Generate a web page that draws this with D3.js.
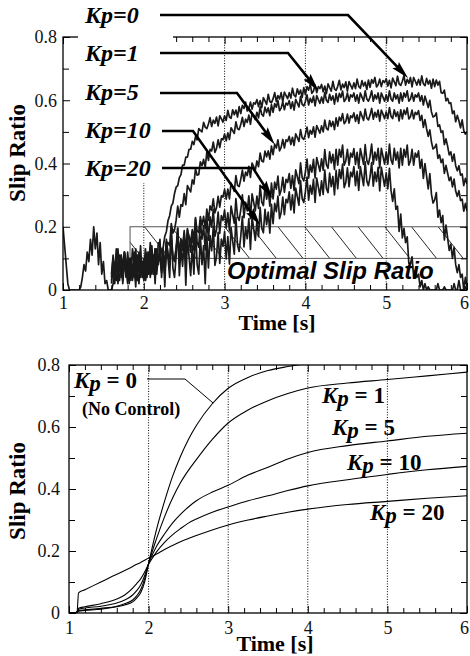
<!DOCTYPE html>
<html>
<head>
<meta charset="utf-8">
<script src="https://cdn.jsdelivr.net/npm/d3@7/dist/d3.min.js"></script>
<style>
  body { margin: 0; background: #fff; }
  svg { display: block; }
  .serif { font-family: "Liberation Serif", "Times New Roman", Times, serif; }
  .sans { font-family: "Liberation Sans", Arial, Helvetica, sans-serif; }
</style>
</head>
<body>
<svg id="fig" width="470" height="656"></svg>
<script>
// ---------------------------------------------------------------
// Measured slip ratio (experiment), one sample every 0.02 s
// (each row below covers 0.2 s)
// ---------------------------------------------------------------
const measuredStep = 0.02;
const measuredLabels = ["Kp=0", "Kp=1", "Kp=5", "Kp=10", "Kp=20"];
const measuredStarts = [1.0, 1.6, 1.6, 1.6, 1.6];

const measuredKp0 = [
  0.20, 0.14, 0.08, 0.02, 0, 0, 0, 0, 0, 0,
  0, 0.01, 0.04, 0.08, 0.06, 0.12, 0.09, 0.16, 0.11, 0.20,
  0.13, 0.18, 0.08, 0.15, 0.05, 0.09, 0.02, 0.03, 0, 0,
  0, 0.02, 0.05, 0.03, 0.08, 0.06, 0.11, 0.07, 0.12, 0.09,
  0.05, 0.10, 0.03, 0.08, 0.04, 0.11, 0.06, 0.02, 0.09, 0.05,
  0.08, 0.03, 0.07, 0.05, 0.10, 0.06, 0.09, 0.07, 0.11, 0.09,
  0.10, 0.125, 0.135, 0.17, 0.185, 0.22, 0.235, 0.265, 0.275, 0.305,
  0.325, 0.33, 0.355, 0.365, 0.395, 0.395, 0.42, 0.42, 0.445, 0.445,
  0.47, 0.46, 0.485, 0.475, 0.51, 0.505, 0.50, 0.53, 0.515, 0.51,
  0.525, 0.545, 0.517, 0.537, 0.527, 0.547, 0.519, 0.551, 0.541, 0.531,
  0.551, 0.536, 0.568, 0.547, 0.543, 0.570, 0.554, 0.569, 0.547, 0.580,
  0.558, 0.584, 0.574, 0.594, 0.566, 0.574, 0.594, 0.572, 0.592, 0.588,
  0.602, 0.580, 0.599, 0.577, 0.608, 0.598, 0.587, 0.619, 0.596, 0.592,
  0.605, 0.624, 0.596, 0.615, 0.604, 0.624, 0.595, 0.626, 0.615, 0.605,
  0.624, 0.607, 0.638, 0.616, 0.611, 0.636, 0.619, 0.632, 0.609, 0.640,
  0.618, 0.643, 0.632, 0.651, 0.622, 0.629, 0.648, 0.624, 0.643, 0.637,
  0.650, 0.627, 0.645, 0.621, 0.652, 0.640, 0.629, 0.660, 0.636, 0.631,
  0.644, 0.663, 0.633, 0.651, 0.640, 0.658, 0.629, 0.659, 0.647, 0.636,
  0.655, 0.637, 0.667, 0.644, 0.638, 0.662, 0.645, 0.657, 0.634, 0.664,
  0.641, 0.665, 0.654, 0.672, 0.642, 0.649, 0.667, 0.643, 0.662, 0.656,
  0.668, 0.645, 0.663, 0.639, 0.670, 0.658, 0.646, 0.676, 0.652, 0.647,
  0.660, 0.678, 0.648, 0.666, 0.654, 0.672, 0.642, 0.672, 0.660, 0.648,
  0.666, 0.648, 0.677, 0.652, 0.646, 0.669, 0.651, 0.663, 0.638, 0.667,
  0.643, 0.664, 0.648, 0.660, 0.624, 0.622, 0.632, 0.598, 0.606, 0.590,
  0.592, 0.558, 0.566, 0.532, 0.552, 0.535, 0.513, 0.538, 0.504, 0.493,
  0.500
];
const measuredKp1 = [
  0.03, 0.07, 0.02, 0.09, 0.05, 0.11, 0.04, 0.08, 0.12, 0.06,
  0.10, 0.03, 0.08, 0.05, 0.12, 0.07, 0.03, 0.10, 0.06, 0.09,
  0.04, 0.11, 0.07, 0.10, 0.05, 0.12, 0.08, 0.13, 0.07, 0.11,
  0.10, 0.07, 0.11, 0.09, 0.15, 0.15, 0.14, 0.21, 0.18, 0.19,
  0.22, 0.265, 0.23, 0.27, 0.265, 0.305, 0.27, 0.33, 0.32, 0.31,
  0.348, 0.335, 0.383, 0.363, 0.365, 0.405, 0.393, 0.413, 0.388, 0.435,
  0.410, 0.445, 0.440, 0.468, 0.435, 0.448, 0.475, 0.450, 0.478, 0.475,
  0.493, 0.472, 0.497, 0.476, 0.513, 0.504, 0.495, 0.532, 0.510, 0.507,
  0.523, 0.546, 0.517, 0.540, 0.530, 0.553, 0.524, 0.559, 0.549, 0.539,
  0.562, 0.544, 0.579, 0.555, 0.550, 0.578, 0.561, 0.576, 0.551, 0.586,
  0.562, 0.589, 0.578, 0.599, 0.567, 0.575, 0.595, 0.570, 0.591, 0.585,
  0.599, 0.574, 0.595, 0.569, 0.603, 0.591, 0.579, 0.612, 0.587, 0.582,
  0.596, 0.617, 0.585, 0.606, 0.593, 0.613, 0.582, 0.615, 0.602, 0.590,
  0.610, 0.591, 0.625, 0.600, 0.593, 0.619, 0.600, 0.614, 0.588, 0.621,
  0.596, 0.622, 0.609, 0.629, 0.596, 0.603, 0.623, 0.597, 0.617, 0.610,
  0.623, 0.597, 0.617, 0.591, 0.623, 0.610, 0.597, 0.630, 0.604, 0.597,
  0.610, 0.630, 0.597, 0.617, 0.604, 0.623, 0.591, 0.623, 0.610, 0.597,
  0.617, 0.597, 0.630, 0.604, 0.597, 0.623, 0.604, 0.617, 0.591, 0.623,
  0.597, 0.623, 0.610, 0.630, 0.597, 0.604, 0.623, 0.597, 0.617, 0.610,
  0.623, 0.597, 0.615, 0.585, 0.613, 0.595, 0.577, 0.600, 0.563, 0.547,
  0.550, 0.560, 0.517, 0.522, 0.498, 0.503, 0.460, 0.478, 0.455, 0.427,
  0.437, 0.407, 0.430, 0.393, 0.377, 0.393, 0.363, 0.367, 0.330, 0.353,
  0.335
];
const measuredKp5 = [
  0.02, 0.08, 0.04, 0.10, 0.06, 0.03, 0.09, 0.05, 0.11, 0.04,
  0.08, 0.02, 0.10, 0.06, 0.09, 0.03, 0.07, 0.12, 0.05, 0.08,
  0.03, 0.09, 0.06, 0.12, 0.04, 0.10, 0.07, 0.13, 0.05, 0.11,
  0.110, 0.055, 0.105, 0.050, 0.130, 0.105, 0.080, 0.160, 0.105, 0.095,
  0.130, 0.173, 0.115, 0.158, 0.138, 0.180, 0.123, 0.190, 0.170, 0.150,
  0.191, 0.164, 0.225, 0.187, 0.182, 0.232, 0.205, 0.233, 0.195, 0.256,
  0.220, 0.266, 0.252, 0.288, 0.244, 0.260, 0.296, 0.262, 0.298, 0.294,
  0.318, 0.287, 0.319, 0.288, 0.338, 0.325, 0.312, 0.362, 0.331, 0.327,
  0.350, 0.379, 0.344, 0.373, 0.362, 0.391, 0.356, 0.401, 0.390, 0.379,
  0.408, 0.390, 0.433, 0.408, 0.405, 0.439, 0.421, 0.440, 0.414, 0.455,
  0.428, 0.461, 0.449, 0.475, 0.440, 0.451, 0.476, 0.449, 0.475, 0.470,
  0.486, 0.460, 0.483, 0.457, 0.494, 0.482, 0.470, 0.507, 0.481, 0.476,
  0.492, 0.515, 0.482, 0.505, 0.493, 0.516, 0.483, 0.520, 0.508, 0.496,
  0.519, 0.500, 0.537, 0.511, 0.506, 0.536, 0.517, 0.533, 0.507, 0.544,
  0.518, 0.547, 0.535, 0.558, 0.526, 0.533, 0.556, 0.528, 0.551, 0.545,
  0.560, 0.533, 0.554, 0.527, 0.564, 0.550, 0.536, 0.572, 0.544, 0.538,
  0.553, 0.574, 0.540, 0.562, 0.547, 0.569, 0.534, 0.569, 0.556, 0.542,
  0.563, 0.542, 0.577, 0.549, 0.542, 0.570, 0.549, 0.563, 0.535, 0.570,
  0.541, 0.569, 0.555, 0.576, 0.541, 0.548, 0.569, 0.541, 0.562, 0.555,
  0.567, 0.536, 0.552, 0.514, 0.539, 0.510, 0.486, 0.506, 0.468, 0.446,
  0.450, 0.461, 0.416, 0.427, 0.403, 0.414, 0.369, 0.394, 0.370, 0.346,
  0.357, 0.326, 0.351, 0.313, 0.296, 0.314, 0.283, 0.287, 0.249, 0.274,
  0.250
];
const measuredKp10 = [
  0.05, 0.11, 0.03, 0.08, 0.13, 0.06, 0.10, 0.02, 0.09, 0.05,
  0.12, 0.06, 0.10, 0.03, 0.08, 0.13, 0.05, 0.11, 0.04, 0.09,
  0.06, 0.13, 0.04, 0.10, 0.07, 0.14, 0.05, 0.12, 0.08, 0.15,
  0.140, 0.063, 0.126, 0.050, 0.153, 0.116, 0.080, 0.183, 0.106, 0.090,
  0.133, 0.196, 0.099, 0.162, 0.125, 0.188, 0.091, 0.194, 0.157, 0.120,
  0.183, 0.126, 0.229, 0.152, 0.135, 0.218, 0.161, 0.204, 0.127, 0.230,
  0.158, 0.231, 0.199, 0.255, 0.170, 0.190, 0.246, 0.179, 0.235, 0.220,
  0.253, 0.196, 0.244, 0.187, 0.265, 0.238, 0.211, 0.289, 0.232, 0.220,
  0.253, 0.301, 0.229, 0.277, 0.250, 0.298, 0.226, 0.304, 0.277, 0.250,
  0.297, 0.258, 0.331, 0.278, 0.267, 0.326, 0.287, 0.318, 0.265, 0.338,
  0.288, 0.341, 0.319, 0.360, 0.300, 0.316, 0.356, 0.309, 0.350, 0.340,
  0.368, 0.321, 0.362, 0.315, 0.380, 0.358, 0.336, 0.402, 0.355, 0.345,
  0.373, 0.414, 0.354, 0.395, 0.373, 0.413, 0.354, 0.419, 0.397, 0.375,
  0.415, 0.379, 0.444, 0.396, 0.385, 0.437, 0.402, 0.429, 0.381, 0.445,
  0.395, 0.445, 0.420, 0.458, 0.395, 0.408, 0.445, 0.395, 0.433, 0.420,
  0.447, 0.397, 0.435, 0.385, 0.447, 0.422, 0.397, 0.460, 0.410, 0.397,
  0.423, 0.461, 0.398, 0.436, 0.411, 0.448, 0.386, 0.448, 0.423, 0.398,
  0.436, 0.398, 0.461, 0.411, 0.398, 0.448, 0.411, 0.436, 0.386, 0.448,
  0.395, 0.445, 0.420, 0.458, 0.395, 0.408, 0.445, 0.395, 0.433, 0.420,
  0.440, 0.385, 0.413, 0.353, 0.400, 0.360, 0.320, 0.368, 0.303, 0.275,
  0.285, 0.308, 0.230, 0.253, 0.213, 0.235, 0.158, 0.205, 0.165, 0.125,
  0.145, 0.100, 0.135, 0.080, 0.055, 0.080, 0.040, 0.050, 0, 0.040,
  0.010
];
const measuredKp20 = [
  0.04, 0.10, 0.06, 0.13, 0.02, 0.08, 0.11, 0.03, 0.12, 0.07,
  0.02, 0.09, 0.05, 0.13, 0.08, 0.01, 0.11, 0.06, 0.14, 0.04,
  0.10, 0.03, 0.12, 0.07, 0.15, 0.05, 0.11, 0.02, 0.13, 0.08,
  0.16, 0.04, 0.13, 0.01, 0.16, 0.10, 0.04, 0.19, 0.07, 0.04,
  0.105, 0.195, 0.045, 0.135, 0.075, 0.165, 0.015, 0.165, 0.105, 0.045,
  0.14, 0.05, 0.20, 0.08, 0.05, 0.17, 0.08, 0.14, 0.02, 0.17,
  0.070, 0.172, 0.124, 0.201, 0.078, 0.105, 0.182, 0.084, 0.161, 0.138,
  0.185, 0.098, 0.169, 0.082, 0.197, 0.155, 0.113, 0.229, 0.142, 0.122,
  0.170, 0.233, 0.136, 0.199, 0.162, 0.225, 0.128, 0.231, 0.194, 0.157,
  0.218, 0.169, 0.261, 0.195, 0.181, 0.255, 0.207, 0.246, 0.180, 0.271,
  0.210, 0.274, 0.248, 0.297, 0.226, 0.245, 0.294, 0.238, 0.287, 0.276,
  0.310, 0.253, 0.301, 0.244, 0.322, 0.295, 0.268, 0.346, 0.289, 0.277,
  0.310, 0.357, 0.284, 0.331, 0.303, 0.350, 0.277, 0.354, 0.326, 0.298,
  0.345, 0.302, 0.379, 0.321, 0.308, 0.370, 0.327, 0.359, 0.301, 0.378,
  0.320, 0.381, 0.352, 0.398, 0.324, 0.340, 0.386, 0.327, 0.373, 0.358,
  0.390, 0.330, 0.375, 0.315, 0.390, 0.360, 0.330, 0.405, 0.345, 0.330,
  0.358, 0.403, 0.328, 0.373, 0.343, 0.388, 0.313, 0.388, 0.358, 0.328,
  0.370, 0.320, 0.385, 0.315, 0.280, 0.320, 0.255, 0.265, 0.185, 0.240,
  0.165, 0.195, 0.150, 0.168, 0.085, 0.083, 0.105, 0.040, 0.063, 0.040,
  0.05, 0.01, 0.03, 0, 0.02, 0, 0.01, 0, 0, 0,
  0, 0, 0.02, 0, 0, 0, 0.01, 0, 0, 0,
  0, 0, 0.02, 0, 0, 0.03, 0, 0, 0, 0.01,
  0
];
const measuredSeries = [measuredKp0, measuredKp1, measuredKp5, measuredKp10, measuredKp20];

// Target band for the controller
const optimalSlipLow = 0.1, optimalSlipHigh = 0.2;
const optimalBandStart = 1.83;

// ---------------------------------------------------------------
// Simulated slip ratio
// ---------------------------------------------------------------
const simTime = [1.0, 1.05, 1.1, 1.12, 1.2, 1.4, 1.6, 1.7, 1.8, 1.85, 1.9, 1.95, 2.0,
  2.1, 2.2, 2.3, 2.4, 2.5, 2.6, 2.8, 3.0, 3.25, 3.5, 3.75, 4.0, 4.5, 5.0, 5.5, 6.0];
const simKp0 = [0, 0, 0.002, 0.006, 0.008, 0.012, 0.02, 0.026, 0.036, 0.048, 0.065, 0.1, 0.16,
  0.27, 0.36, 0.44, 0.505, 0.56, 0.605, 0.675, 0.725, 0.76, 0.782, 0.795, 0.805, 0.815, 0.822, 0.828, 0.832];
const simKp1 = [0, 0, 0.002, 0.008, 0.01, 0.015, 0.022, 0.03, 0.042, 0.055, 0.075, 0.11, 0.16,
  0.24, 0.31, 0.37, 0.42, 0.46, 0.495, 0.56, 0.613, 0.655, 0.685, 0.708, 0.726, 0.742, 0.753, 0.765, 0.777];
const simKp5 = [0, 0, 0.003, 0.012, 0.016, 0.022, 0.032, 0.042, 0.058, 0.072, 0.09, 0.12, 0.16,
  0.215, 0.255, 0.29, 0.318, 0.342, 0.362, 0.39, 0.412, 0.445, 0.47, 0.497, 0.518, 0.54, 0.555, 0.57, 0.58];
const simKp10 = [0, 0, 0.003, 0.015, 0.02, 0.03, 0.045, 0.058, 0.08, 0.095, 0.11, 0.132, 0.157,
  0.197, 0.228, 0.252, 0.272, 0.29, 0.303, 0.325, 0.342, 0.362, 0.378, 0.395, 0.41, 0.43, 0.447, 0.462, 0.473];
const simKp20 = [0, 0, 0, 0.065, 0.075, 0.1, 0.125, 0.137, 0.15, 0.157, 0.163, 0.17, 0.177,
  0.19, 0.205, 0.218, 0.23, 0.24, 0.25, 0.268, 0.284, 0.30, 0.313, 0.325, 0.335, 0.35, 0.36, 0.37, 0.378];
const simSeries = [simKp0, simKp1, simKp5, simKp10, simKp20];
const simGains = ["0", "1", "5", "10", "20"];

// Axis ticks
const timeTicks = [1, 2, 3, 4, 5, 6];
const slipTicks = [0, 0.2, 0.4, 0.6, 0.8];
const gridTimes = [2, 3, 4, 5];

// ---------------------------------------------------------------
const svg = d3.select("#fig");

const defs = svg.append("defs");
defs.append("marker")
  .attr("id", "arrowHead")
  .attr("viewBox", "0 0 18 10")
  .attr("refX", 6).attr("refY", 5)
  .attr("markerWidth", 18).attr("markerHeight", 10)
  .attr("markerUnits", "userSpaceOnUse")
  .attr("orient", "auto")
  .append("path").attr("d", "M0,0.5L18,5L0,9.5L3,5Z").attr("fill", "#000");

function panel(opts) {
  const { left, right, top, bottom, id } = opts;
  const x = d3.scaleLinear().domain([1, 6]).range([left, right]);
  const y = d3.scaleLinear().domain([0, 0.8]).range([bottom, top]);
  const g = svg.append("g");
  defs.append("clipPath").attr("id", id)
    .append("rect").attr("x", left).attr("y", top)
    .attr("width", right - left).attr("height", bottom - top);
  return { x, y, g };
}

function gridLines(p) {
  p.g.append("g").selectAll("line").data(gridTimes).join("line")
    .attr("x1", d => p.x(d)).attr("x2", d => p.x(d))
    .attr("y1", p.y(0.8)).attr("y2", p.y(0))
    .attr("stroke", "#000").attr("stroke-width", 1)
    .attr("stroke-dasharray", "1,1.6");
}

function axesFrame(p, o) {
  const g = p.g.append("g");
  const xMinor = d3.range(1.2, 6, 0.2).filter(v => Math.abs(v - Math.round(v)) > 0.01);
  const yMinor = [0.1, 0.3, 0.5, 0.7];
  const [x0, x1] = p.x.range();
  const [y0, y1] = p.y.range(); // y0 bottom, y1 top
  const bare = (sel) => sel.select(".domain").remove();

  // inward ticks on all four sides
  const tickSets = [
    [d3.axisBottom, `translate(0,${y0})`, p.x, xMinor, 5],
    [d3.axisBottom, `translate(0,${y0})`, p.x, timeTicks, 7],
    [d3.axisTop, `translate(0,${y1})`, p.x, xMinor, 5],
    [d3.axisTop, `translate(0,${y1})`, p.x, timeTicks, 7],
    [d3.axisLeft, `translate(${x0},0)`, p.y, yMinor, 6],
    [d3.axisLeft, `translate(${x0},0)`, p.y, slipTicks, 7],
    [d3.axisRight, `translate(${x1},0)`, p.y, yMinor, 6],
    [d3.axisRight, `translate(${x1},0)`, p.y, slipTicks, 7]
  ];
  tickSets.forEach(([ax, tr, sc, vals, len]) => {
    g.append("g").attr("transform", tr)
      .call(ax(sc).tickValues(vals).tickSize(-len).tickFormat("")).call(bare);
  });
  g.selectAll(".tick line").attr("stroke", "#000").attr("stroke-width", 1);

  // frame
  g.append("rect").attr("x", x0).attr("y", y1)
    .attr("width", x1 - x0).attr("height", y0 - y1)
    .attr("fill", "none").attr("stroke", "#000").attr("stroke-width", 1.3);

  // tick labels
  const xl = g.append("g").attr("transform", `translate(0,${y0})`)
    .call(d3.axisBottom(p.x).tickValues(timeTicks).tickSize(0).tickPadding(o.xPad).tickFormat(d3.format("d")));
  const yl = g.append("g").attr("transform", `translate(${x0},0)`)
    .call(d3.axisLeft(p.y).tickValues(slipTicks).tickSize(0).tickPadding(o.yPad)
      .tickFormat(d => d === 0 ? "0" : d3.format(".1f")(d)));
  [xl, yl].forEach(s => {
    s.select(".domain").remove();
    s.attr("font-family", null).attr("font-size", null);
    s.selectAll("text").attr("class", "serif").style("font-size", "18px").attr("fill", "#111");
  });
  // the last time label sits against the right edge
  xl.selectAll(".tick").filter(d => d === 6).select("text").attr("dx", -3);

  // axis titles
  g.append("text").attr("class", "serif").attr("x", o.xTitleX).attr("y", o.xTitleY)
    .attr("text-anchor", "middle").style("font-weight", "bold").style("font-size", "22px")
    .text("Time [s]");
  g.append("text").attr("class", "serif")
    .attr("transform", `translate(${o.yTitleX},${o.yTitleY}) rotate(-90)`)
    .attr("text-anchor", "middle").style("font-weight", "bold").style("font-size", "23px")
    .text("Slip Ratio");
}

// ================= Upper panel: experiment =================
const up = panel({ left: 63, right: 467, top: 37, bottom: 290, id: "clipUp" });

// optimal slip band with hatching
(function () {
  const bx0 = up.x(optimalBandStart), bx1 = up.x(6);
  const by0 = up.y(optimalSlipHigh), by1 = up.y(optimalSlipLow);
  const band = up.g.append("g");
  defs.append("clipPath").attr("id", "clipBand")
    .append("rect").attr("x", bx0).attr("y", by0).attr("width", bx1 - bx0).attr("height", by1 - by0);
  const spacing = 26.7, slant = 25;
  const starts = d3.range(-8, 12).map(k => 278 + k * spacing);
  band.append("g").attr("clip-path", "url(#clipBand)")
    .selectAll("line").data(starts).join("line")
    .attr("x1", d => d).attr("y1", by0).attr("x2", d => d + slant).attr("y2", by1)
    .attr("stroke", "#111").attr("stroke-width", 0.9);
  band.append("rect").attr("x", bx0).attr("y", by0)
    .attr("width", bx1 - bx0).attr("height", by1 - by0)
    .attr("fill", "none").attr("stroke", "#555").attr("stroke-width", 1);
})();

gridLines(up);

// measured curves
const upLine = d3.line().x(d => up.x(d[0])).y(d => up.y(d[1]));
up.g.append("g").attr("clip-path", "url(#clipUp)")
  .selectAll("path").data(measuredSeries.map((vals, k) =>
    vals.map((v, i) => [measuredStarts[k] + i * measuredStep, v])))
  .join("path")
  .attr("d", upLine)
  .attr("fill", "none").attr("stroke", "#1a1a1a")
  .attr("stroke-width", 1.7).attr("stroke-linejoin", "round");

up.g.append("text").attr("class", "sans").attr("x", 227).attr("y", 279)
  .style("font-weight", "bold").style("font-style", "italic").style("font-size", "24px")
  .attr("fill", "#000").text("Optimal Slip Ratio");

axesFrame(up, { xPad: 6, yPad: 6, xTitleX: 277, xTitleY: 330, yTitleX: 25, yTitleY: 153 });

// legend area is kept clear of the frame and grid
up.g.append("rect").attr("x", 78).attr("y", 30).attr("width", 95).attr("height", 12).attr("fill", "#fff");
up.g.append("rect").attr("x", 78).attr("y", 30).attr("width", 80).attr("height", 153).attr("fill", "#fff");

// labels with leader arrows (tip given in data units)
const upLabels = [
  { tip: [5.27, 0.67], y: 15, xs: 160, elbow: 348, base: 23 },
  { tip: [4.16, 0.63], y: 53, xs: 160, elbow: 288, base: 61 },
  { tip: [3.62, 0.46], y: 93, xs: 160, elbow: 237, base: 100 },
  { tip: [3.44, 0.205], y: 131, xs: 162, elbow: 193, base: 138 },
  { tip: [3.59, 0.29], y: 168, xs: 162, elbow: 253, base: 176 }
];
upLabels.forEach((L, k) => {
  const tx = up.x(L.tip[0]), ty = up.y(L.tip[1]);
  const dx = tx - L.elbow, dy = ty - L.y, len = Math.hypot(dx, dy);
  const ex = tx - dx / len * 12, ey = ty - dy / len * 12;
  up.g.append("path")
    .attr("d", `M${L.xs},${L.y}H${L.elbow}L${ex},${ey}`)
    .attr("fill", "none").attr("stroke", "#000").attr("stroke-width", 2.6)
    .attr("marker-end", "url(#arrowHead)");
  up.g.append("text").attr("class", "serif").attr("x", 85).attr("y", L.base)
    .style("font-weight", "bold").style("font-style", "italic").style("font-size", "24px")
    .text(measuredLabels[k]);
});

// ================= Lower panel: simulation =================
const lo = panel({ left: 69, right: 467, top: 365, bottom: 613, id: "clipLo" });
gridLines(lo);

const loLine = d3.line().curve(d3.curveMonotoneX)
  .x((d, i) => lo.x(simTime[i])).y(d => lo.y(d));
lo.g.append("g").attr("clip-path", "url(#clipLo)")
  .selectAll("path").data(simSeries).join("path")
  .attr("d", loLine)
  .attr("fill", "none").attr("stroke", "#000").attr("stroke-width", 1.1);

axesFrame(lo, { xPad: 8, yPad: 9, xTitleX: 275, xTitleY: 651, yTitleX: 25, yTitleY: 491 });

// gain labels
const loLabels = [
  { x: 74, y: 388 }, { x: 322, y: 403 }, { x: 332, y: 435 }, { x: 347, y: 470 }, { x: 370, y: 520 }
];
loLabels.forEach((L, k) => {
  const t = lo.g.append("text").attr("class", "serif").attr("x", L.x).attr("y", L.y)
    .style("font-weight", "bold").style("font-size", "23px");
  t.append("tspan").style("font-style", "italic").text("K");
  t.append("tspan").style("font-style", "italic").attr("dy", 3).text("p");
  t.append("tspan").attr("dy", -3).text(" = " + simGains[k]);
});
lo.g.append("text").attr("class", "serif").attr("x", 82).attr("y", 415)
  .style("font-weight", "bold").style("font-size", "18px")
  .text("(No Control)");
// leader from the uncontrolled label to its curve
(function () {
  const tipT = 2.81;
  const i0 = d3.bisectLeft(simTime, tipT);
  const f = (tipT - simTime[i0 - 1]) / (simTime[i0] - simTime[i0 - 1]);
  const tipS = simKp0[i0 - 1] + f * (simKp0[i0] - simKp0[i0 - 1]);
  lo.g.append("path")
    .attr("d", `M147,379H185L${lo.x(tipT)},${lo.y(tipS)}`)
    .attr("fill", "none").attr("stroke", "#000").attr("stroke-width", 1);
})();
</script>
</body>
</html>
